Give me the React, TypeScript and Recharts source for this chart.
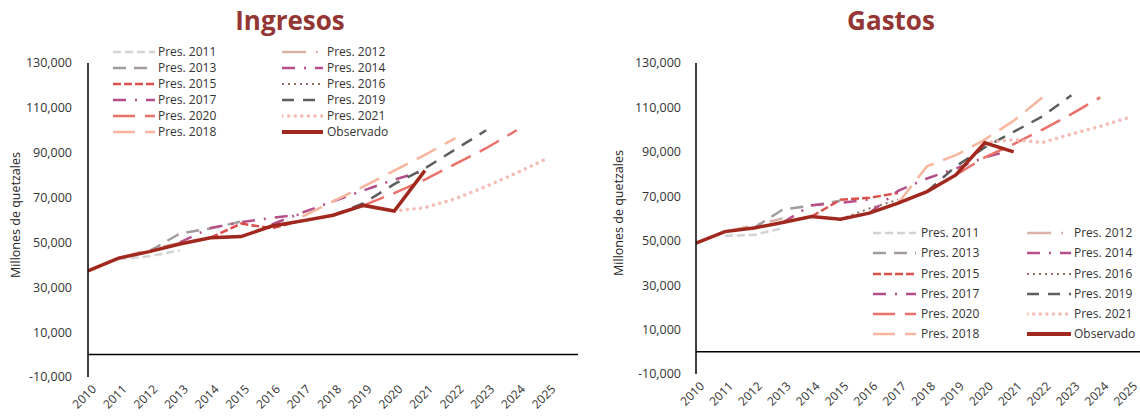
import { LineChart, Line, XAxis, YAxis, ReferenceLine } from 'recharts';

const years = [2010, 2011, 2012, 2013, 2014, 2015, 2016, 2017, 2018, 2019, 2020, 2021, 2022, 2023, 2024, 2025];
const yTicks = [-10000, 10000, 30000, 50000, 70000, 90000, 110000, 130000];
const _ = null;

// Ingresos, millones de quetzales (one slot per year 2010..2025)
const ingObservado = [37300, 43000, 45900, 49300, 52100, 52600, 57300, 59600, 62100, 66500, 64000, 82000, _, _, _, _];
const ing2011 = [_, 42500, 43800, 46500, _, _, _, _, _, _, _, _, _, _, _, _];
const ing2012 = [_, 43000, 46800, 49800, _, _, _, _, _, _, _, _, _, _, _, _];
const ing2013 = [_, _, 46000, 54000, 56200, 59300, _, _, _, _, _, _, _, _, _, _];
const ing2014 = [_, _, _, 50000, 56500, 59000, 61000, 62500, _, _, _, _, _, _, _, _];
const ing2015 = [_, _, _, _, 52100, 58400, 56300, 59800, _, _, _, _, _, _, _, _];
const ing2016 = [_, _, _, _, _, 52600, 57000, 59500, 62000, _, _, _, _, _, _, _];
const ing2017 = [_, _, _, _, _, _, 58000, 63300, 68300, 73200, 78000, 82000, _, _, _, _];
const ing2018 = [_, _, _, _, _, _, _, 61500, 68300, 75000, 82000, 89000, 96500, _, _, _];
const ing2019 = [_, _, _, _, _, _, _, _, 62000, 67500, 76000, 83000, 91500, 100000, _, _];
const ing2020 = [_, _, _, _, _, _, _, _, _, 66500, 72000, 78000, 85000, 92000, 100000, _];
const ing2021 = [_, _, _, _, _, _, _, _, _, _, 64000, 65500, 69500, 75000, 81000, 87500];

// Gastos, millones de quetzales
const gasObservado = [48900, 54100, 55700, 58200, 60900, 59700, 62400, 66900, 72100, 79600, 94100, 90000, _, _, _, _];
const gas2011 = [_, 52200, 52600, 55600, _, _, _, _, _, _, _, _, _, _, _, _];
const gas2012 = [_, 54100, 57000, 60000, _, _, _, _, _, _, _, _, _, _, _, _];
const gas2013 = [_, _, 55700, 64000, 65800, 68000, _, _, _, _, _, _, _, _, _, _];
const gas2014 = [_, _, _, 58200, 66000, 67000, 68500, _, _, _, _, _, _, _, _, _];
const gas2015 = [_, _, _, _, 60900, 68400, 69300, 71500, _, _, _, _, _, _, _, _];
const gas2016 = [_, _, _, _, _, 59700, 64500, 68500, _, _, _, _, _, _, _, _];
const gas2017 = [_, _, _, _, _, _, 62400, 72500, 78000, 82500, 87500, 91000, _, _, _, _];
const gas2018 = [_, _, _, _, _, _, _, 66900, 83500, 88500, 95500, 104000, 114500, _, _, _];
const gas2019 = [_, _, _, _, _, _, _, _, 72100, 83500, 92000, 99000, 106000, 115500, _, _];
const gas2020 = [_, _, _, _, _, _, _, _, _, 79600, 87500, 93500, 100000, 107000, 114500, _];
const gas2021 = [_, _, _, _, _, _, _, _, _, _, 94100, 95500, 94200, 98000, 101500, 105500];

const FONT = '"Open Sans", "Noto Sans", sans-serif';

type SeriesStyle = { key: string; name: string; color: string; dash?: string; width: number; round?: boolean };

const series: SeriesStyle[] = [
  { key: 'p2011', name: 'Pres. 2011', color: '#D3D3D3', dash: '8 4', width: 2.5 },
  { key: 'p2012', name: 'Pres. 2012', color: '#D8B3A7', dash: '24 10 2 10', width: 2.5 },
  { key: 'p2013', name: 'Pres. 2013', color: '#A29B9B', dash: '13 8', width: 2.5 },
  { key: 'p2014', name: 'Pres. 2014', color: '#B84F8B', dash: '13 9 2 9', width: 2.5 },
  { key: 'p2015', name: 'Pres. 2015', color: '#DD4F4D', dash: '8 3', width: 2.5 },
  { key: 'p2016', name: 'Pres. 2016', color: '#93705F', dash: '2 4', width: 2 },
  { key: 'p2017', name: 'Pres. 2017', color: '#B34E89', dash: '13 9 2 9', width: 2.5 },
  { key: 'p2018', name: 'Pres. 2018', color: '#F7B59D', dash: '22 10', width: 2.5 },
  { key: 'p2019', name: 'Pres. 2019', color: '#5E5E5E', dash: '12 9', width: 2.5 },
  { key: 'p2020', name: 'Pres. 2020', color: '#E9716A', dash: '22 10', width: 2.5 },
  { key: 'p2021', name: 'Pres. 2021', color: '#F4BDB5', dash: '0.1 6.5', width: 3.5, round: true },
  { key: 'obs', name: 'Observado', color: '#A1281E', width: 3.5 },
];

const legendRows = [
  ['p2011', 'p2012'],
  ['p2013', 'p2014'],
  ['p2015', 'p2016'],
  ['p2017', 'p2019'],
  ['p2020', 'p2021'],
  ['p2018', 'obs'],
];

const ingresos = years.map((year, i) => ({
  year,
  p2011: ing2011[i], p2012: ing2012[i], p2013: ing2013[i], p2014: ing2014[i],
  p2015: ing2015[i], p2016: ing2016[i], p2017: ing2017[i], p2018: ing2018[i],
  p2019: ing2019[i], p2020: ing2020[i], p2021: ing2021[i], obs: ingObservado[i],
}));

const gastos = years.map((year, i) => ({
  year,
  p2011: gas2011[i], p2012: gas2012[i], p2013: gas2013[i], p2014: gas2014[i],
  p2015: gas2015[i], p2016: gas2016[i], p2017: gas2017[i], p2018: gas2018[i],
  p2019: gas2019[i], p2020: gas2020[i], p2021: gas2021[i], obs: gasObservado[i],
}));

const fmt = (v: number) => v.toLocaleString('en-US');

function YearTick({ x, y, payload }: any) {
  const tx = x + 9;
  const ty = y + 13;
  return (
    <text x={tx} y={ty} textAnchor="end" transform={`rotate(-45 ${tx} ${ty})`} fontSize={12} fill="#333" fontFamily={FONT}>
      {payload.value}
    </text>
  );
}

function Panel({ data, width, axisWidth, tickMargin, xHeight }: { data: any[]; width: number; axisWidth: number; tickMargin: number; xHeight: number }) {
  return (
    <LineChart width={width} height={419} data={data} margin={{ top: 63, right: 0, bottom: 0, left: 0 }}>
      <XAxis
        dataKey="year"
        type="number"
        domain={[2010, 2026]}
        ticks={years}
        interval={0}
        axisLine={false}
        tickLine={false}
        tickSize={0}
        tickMargin={0}
        height={xHeight}
        tick={<YearTick />}
      />
      <YAxis
        type="number"
        domain={[-10000, 130000]}
        ticks={yTicks}
        interval={0}
        width={axisWidth}
        tickLine={false}
        tickSize={0}
        tickMargin={tickMargin}
        tickFormatter={fmt}
        axisLine={{ stroke: '#000', strokeWidth: 1.5 }}
        tick={{ fill: '#333', fontSize: 12.5, fontFamily: FONT }}
      />
      <ReferenceLine y={0} stroke="#000" strokeWidth={1.5} />
      {series.map((s) => (
        <Line
          key={s.key}
          dataKey={s.key}
          name={s.name}
          type="linear"
          stroke={s.color}
          strokeWidth={s.width}
          strokeDasharray={s.dash}
          strokeLinecap={s.round ? 'round' : 'butt'}
          dot={false}
          activeDot={false}
          isAnimationActive={false}
        />
      ))}
    </LineChart>
  );
}

function LegendBlock({ cols, y0, step }: { cols: { lineX: number; lineW: number; textX: number }[]; y0: number; step: number }) {
  return (
    <>
      {legendRows.map((row, r) =>
        row.map((key, c) => {
          const s = series.find((e) => e.key === key)!;
          const col = cols[c];
          const cy = y0 + r * step;
          return (
            <div key={key} style={{ position: 'absolute', left: col.lineX, top: cy - 8, height: 16, display: 'flex', alignItems: 'center' }}>
              <svg width={col.lineW} height={8} style={{ display: 'block' }}>
                <line
                  x1={0}
                  y1={4}
                  x2={col.lineW}
                  y2={4}
                  stroke={s.color}
                  strokeWidth={s.key === 'obs' ? 4 : s.width}
                  strokeDasharray={s.dash}
                  strokeLinecap={s.round ? 'round' : 'butt'}
                />
              </svg>
              <span style={{ marginLeft: col.textX - col.lineX - col.lineW, fontSize: 12, lineHeight: '16px', color: '#333', whiteSpace: 'nowrap' }}>{s.name}</span>
            </div>
          );
        })
      )}
    </>
  );
}

const titleStyle = {
  position: 'absolute' as const,
  width: 300,
  textAlign: 'center' as const,
  top: 3,
  fontSize: 26,
  lineHeight: '34px',
  fontWeight: 700,
  color: '#943634',
};

const yLabelStyle = {
  position: 'absolute' as const,
  transform: 'translate(-50%, -50%) rotate(-90deg)',
  fontSize: 12.5,
  color: '#222',
  whiteSpace: 'nowrap' as const,
};

export default function App() {
  return (
    <div style={{ position: 'absolute', left: 0, top: 0, width: 1140, height: 419, overflow: 'hidden', background: '#fff', fontFamily: FONT }}>
      <div style={{ position: 'absolute', left: 0, top: 0 }}>
        <Panel data={ingresos} width={578} axisWidth={88} tickMargin={16} xHeight={42} />
      </div>
      <div style={{ position: 'absolute', left: 600, top: 0 }}>
        <Panel data={gastos} width={558} axisWidth={96} tickMargin={15} xHeight={45} />
      </div>
      <div style={{ ...titleStyle, left: 140 }}>Ingresos</div>
      <div style={{ ...titleStyle, left: 741 }}>Gastos</div>
      <div style={{ ...yLabelStyle, left: 15, top: 215 }}>Millones de quetzales</div>
      <div style={{ ...yLabelStyle, left: 618, top: 213 }}>Millones de quetzales</div>
      <LegendBlock
        cols={[
          { lineX: 113, lineW: 42, textX: 158 },
          { lineX: 282, lineW: 41, textX: 327 },
        ]}
        y0={52.3}
        step={16}
      />
      <LegendBlock
        cols={[
          { lineX: 873, lineW: 43, textX: 921 },
          { lineX: 1027, lineW: 44, textX: 1074 },
        ]}
        y0={233.3}
        step={20.1}
      />
    </div>
  );
}
